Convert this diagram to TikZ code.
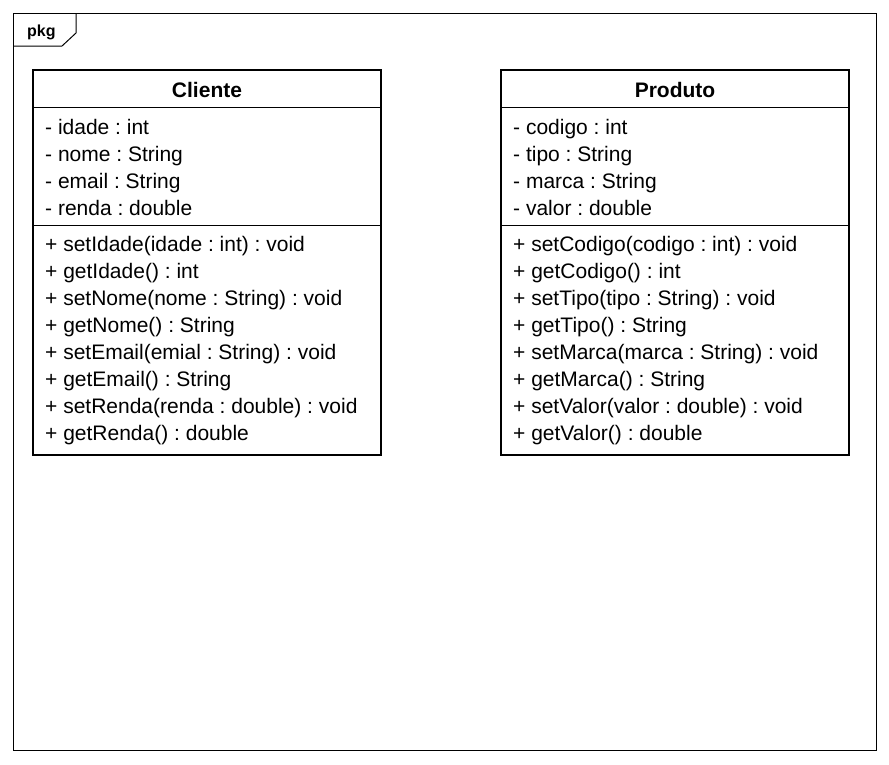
\documentclass[tikz,border=0pt]{standalone}
\usepackage{fontspec}
\setmainfont{Liberation Sans}
\frenchspacing
\begin{document}
\begin{tikzpicture}[x=1pt, y=-1pt, line join=miter, font=\fontsize{21}{25}\selectfont,
  umlbox/.style={line width=2.5pt},
  sep/.style={line width=1pt},
  member/.style={anchor=base west, inner sep=0pt},
  classname/.style={anchor=base, inner sep=0pt, font=\fontsize{21}{25}\selectfont\bfseries}]
\useasboundingbox (0,0) rectangle (889,764);
% package frame
\draw[line width=1pt] (13.5,13.5) rectangle (876.5,750);
\draw[line width=1pt] (76,13.5) -- (76,33) -- (62,46) -- (13.5,46);
\node[member, font=\fontsize{16}{18}\selectfont\bfseries] (pkg) at (27,36) {pkg};
% Cliente
\draw[umlbox] (33,70) rectangle (381,455);
\draw[sep] (33,107) -- (381,107);
\draw[sep] (33,225) -- (381,225);
\node[classname] (cliente) at (207,97) {Cliente};
\foreach \t [count=\i] in {- idade : int, - nome : String, - email : String, - renda : double}
  \node[member] (cliente-a\i) at (45,{134+27*(\i-1)}) {\t};
\foreach \t [count=\i] in {+ setIdade(idade : int) : void, + getIdade() : int,
    + setNome(nome : String) : void, + getNome() : String,
    + setEmail(emial : String) : void, + getEmail() : String,
    + setRenda(renda : double) : void, + getRenda() : double}
  \node[member] (cliente-m\i) at (45,{251+27*(\i-1)}) {\t};
% Produto
\draw[umlbox] (501,70) rectangle (849,455);
\draw[sep] (501,107) -- (849,107);
\draw[sep] (501,225) -- (849,225);
\node[classname] (produto) at (675,97) {Produto};
\foreach \t [count=\i] in {- codigo : int, - tipo : String, - marca : String, - valor : double}
  \node[member] (produto-a\i) at (513,{134+27*(\i-1)}) {\t};
\foreach \t [count=\i] in {+ setCodigo(codigo : int) : void, + getCodigo() : int,
    + setTipo(tipo : String) : void, + getTipo() : String,
    + setMarca(marca : String) : void, + getMarca() : String,
    + setValor(valor : double) : void, + getValor() : double}
  \node[member] (produto-m\i) at (513,{251+27*(\i-1)}) {\t};
\end{tikzpicture}
\end{document}
